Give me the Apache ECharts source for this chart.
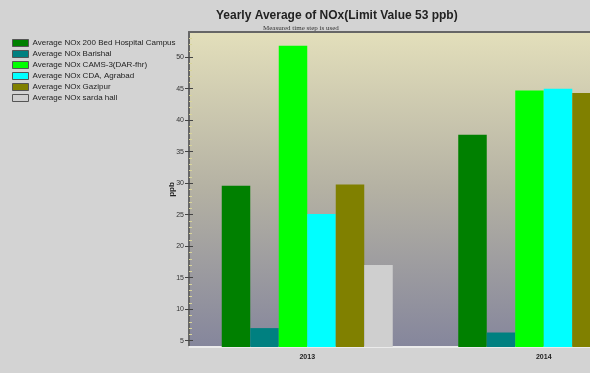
<!DOCTYPE html>
<html>
<head>
<meta charset="utf-8">
<script src="https://cdn.jsdelivr.net/npm/echarts@6/dist/echarts.min.js"></script>
<style>
  html, body { margin: 0; padding: 0; background: #d3d3d3; }
  #chart { width: 590px; height: 373px; }
</style>
</head>
<body>
<div id="chart"></div>
<script>
// Yearly average NOx per monitoring station (ppb)
const categories = ['2013', '2014'];
const hospital200 = [29.6, 37.7];
const barishal = [7.0, 6.3];
const cams3 = [51.8, 44.7];
const cdaAgrabad = [25.1, 45.0];
const gazipur = [29.8, 44.3];
const sardaHall = [17.0, null];

const majorTicks = [5, 10, 15, 20, 25, 30, 35, 40, 45, 50];
const minorTicks = [];
for (let v = 5; v <= 53; v++) if (v % 5 !== 0) minorTicks.push(v);

const stations = [
  { name: 'Average NOx 200 Bed Hospital Campus', data: hospital200, color: '#008000' },
  { name: 'Average NOx Barishal', data: barishal, color: '#008080' },
  { name: 'Average NOx CAMS-3(DAR-fhr)', data: cams3, color: '#00ff00' },
  { name: 'Average NOx CDA, Agrabad', data: cdaAgrabad, color: '#00ffff' },
  { name: 'Average NOx Gazipur', data: gazipur, color: '#808000' },
  { name: 'Average NOx sarda hall', data: sardaHall, color: '#cfcfcf' }
];

const chart = echarts.init(document.getElementById('chart'));
const font = 'Arial, "Liberation Sans", sans-serif';

chart.setOption({
  backgroundColor: '#d3d3d3',
  animation: false,
  title: [
    {
      text: 'Yearly Average of NOx(Limit Value 53 ppb)',
      left: 211, top: 5,
      textStyle: { fontFamily: font, fontSize: 12, fontWeight: 'bold', color: '#222' }
    },
    {
      text: 'Measured time step is used',
      left: 258, top: 20,
      textStyle: { fontFamily: '"Liberation Serif", serif', fontSize: 7, fontWeight: 'normal', color: '#333' }
    }
  ],
  legend: {
    orient: 'vertical',
    left: 7, top: 34,
    itemWidth: 16, itemHeight: 7, itemGap: 3,
    icon: 'rect',
    itemStyle: { borderColor: '#555', borderWidth: 1 },
    textStyle: { fontFamily: font, fontSize: 8, color: '#222', lineHeight: 8, padding: [0, 0, 0, -1] },
    data: stations.map(s => s.name)
  },
  grid: {
    left: 189, top: 32, width: 473, bottom: 26,
    outerBoundsMode: 'none',
    containLabel: false,
    show: true, borderWidth: 0,
    backgroundColor: {
      type: 'linear', x: 0, y: 0, x2: 0, y2: 1,
      colorStops: [
        { offset: 0, color: '#e3dfbb' },
        { offset: 0.5, color: '#b4b1a3' },
        { offset: 1, color: '#85869c' }
      ]
    }
  },
  xAxis: [
    {
      type: 'category', data: categories,
      axisLine: { lineStyle: { color: '#ebebeb', width: 2 } },
      axisTick: { alignWithLabel: true, length: 5, lineStyle: { color: '#333' } },
      axisLabel: { fontFamily: font, fontSize: 7, fontWeight: 'bold', color: '#222', margin: 7 }
    },
    {
      type: 'category', data: categories, position: 'top',
      axisLine: { lineStyle: { color: '#666', width: 2 } },
      axisTick: { show: false }, axisLabel: { show: false }
    }
  ],
  yAxis: [
    {
      type: 'value', min: 4, max: 54,
      name: 'ppb', nameLocation: 'middle', nameGap: 13, nameRotate: 90,
      nameMoveOverlap: false,
      nameTextStyle: { fontFamily: font, fontSize: 8, fontWeight: 'bold', color: '#222' },
      splitLine: { show: false },
      axisLine: { show: true, lineStyle: { color: '#666', width: 2 } },
      axisTick: { show: true, customValues: majorTicks, length: 4, lineStyle: { color: '#444' } },
      axisLabel: { customValues: majorTicks, fontFamily: font, fontSize: 7, color: '#333', margin: 5 }
    },
    {
      type: 'value', min: 4, max: 54, position: 'left',
      splitLine: { show: false }, axisLine: { show: false }, axisLabel: { show: false },
      axisTick: { show: true, inside: true, customValues: majorTicks, length: 4, lineStyle: { color: '#444' } }
    },
    {
      type: 'value', min: 4, max: 54, position: 'left',
      splitLine: { show: false }, axisLine: { show: false }, axisLabel: { show: false },
      axisTick: { show: true, inside: true, customValues: minorTicks, length: 3, lineStyle: { color: '#d8d49a' } }
    }
  ],
  series: stations.map(s => ({
    name: s.name,
    type: 'bar',
    data: s.data,
    barWidth: 28.5,
    barGap: '0%',
    itemStyle: { color: s.color }
  }))
});
</script>
</body>
</html>
